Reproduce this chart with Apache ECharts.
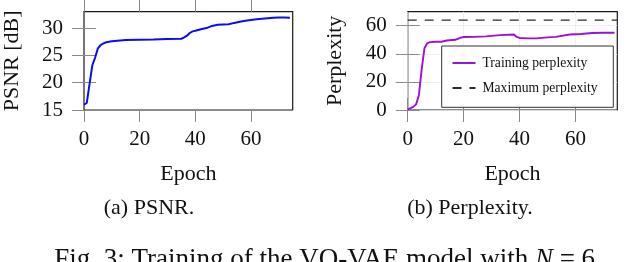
<!DOCTYPE html>
<html><head><meta charset="utf-8">
<script src="https://cdn.jsdelivr.net/npm/echarts@6/dist/echarts.min.js"></script>
<style>html,body{margin:0;padding:0;background:#fff}#c{width:630px;height:262px}</style>
</head><body><div id="c"></div>
<script>
// ---- data ----
const psnrEpochs = [0,1,2,3,4,5,6,7,8,10,12,15,20,25,30,35,36,37,38,39,40,42,44,46,48,50,52,54,56,58,60,62,64,66,68,70,72,74];
const psnrValues = [16.0,16.3,19.8,23.2,24.6,26.3,26.9,27.2,27.4,27.6,27.7,27.8,27.85,27.9,28.0,28.05,28.3,28.6,29.1,29.4,29.5,29.8,30.0,30.4,30.6,30.65,30.7,30.95,31.15,31.35,31.5,31.6,31.7,31.8,31.9,31.95,31.95,31.9];
const perpEpochs = [0,1,2,3,4,5,6,7,8,10,12,14,17,19,20,24,28,33,38,39,40,43,46,50,53,58,62,66,70,74];
const perpValues = [0.5,1.3,2.2,4,10.5,29,44,47.5,48.3,48.6,48.6,49.5,50,51.5,52,52.1,52.4,53.3,53.8,52,51.3,51,51,51.7,52.1,53.8,54.1,54.8,55,55];
const maxPerplexity = 64;
const epochRange = [0, 75];
const epochTicks = [0,20,40,60];
const psnrTicks = [15,20,25,30];
const perpTicks = [0,20,40,60];
const seriesNames = ['Training perplexity','Maximum perplexity'];
const axisNames = {x:'Epoch', psnr:'PSNR [dB]', perp:'Perplexity'};
const captions = ['(a) PSNR.', '(b) Perplexity.'];
const figCaption = ['Fig. 3: Training of the VQ-VAE model with ', 'N', ' = 6.'];

// ---- chart ----
const FONT = "'Liberation Serif','Times New Roman',serif";
const chart = echarts.init(document.getElementById('c'), null, {renderer:'canvas'});
const tick = vals => ({show:true, inside:false, length:12, customValues: vals, lineStyle:{color:'#8a8a8a', width:1}});
const lbl = (vals, show, margin) => ({show, customValues: vals, margin, fontFamily:FONT, fontSize:21, color:'#111'});
const noSplit = {show:false};
const split = {show:true, lineStyle:{color:'#ececec', width:0.8}};

function xAxes(grid, showSplit){
  return [
    {type:'value', gridIndex:grid, position:'bottom', min:epochRange[0], max:epochRange[1], interval:20,
     axisLine:{show:false}, axisTick:tick(epochTicks), axisLabel:lbl(epochTicks,true,19),
     splitLine: showSplit ? split : noSplit,
     name:axisNames.x, nameLocation:'middle', nameGap:53,
     nameTextStyle:{fontFamily:FONT, fontSize:22, color:'#111'}},
    {type:'value', gridIndex:grid, position:'top', min:epochRange[0], max:epochRange[1], interval:20,
     axisLine:{show:false}, axisTick:tick(epochTicks), axisLabel:{show:false}, splitLine:noSplit}
  ];
}
function yAxes(grid, min, max, interval, ticks, name, showSplit){
  return [
    {type:'value', gridIndex:grid, position:'left', min, max, interval,
     axisLine:{show:false}, axisTick:tick(ticks), axisLabel:lbl(ticks,true,21),
     splitLine: showSplit ? split : noSplit,
     name, nameLocation:'middle', nameGap:61,
     nameTextStyle:{fontFamily:FONT, fontSize:22, color:'#111'}},
    {type:'value', gridIndex:grid, position:'right', min, max, interval,
     axisLine:{show:false}, axisTick:tick(ticks), axisLabel:{show:false}, splitLine:noSplit}
  ];
}

const option = {
  animation:false,
  backgroundColor:'#fff',
  grid:[
    {left:82.3, top:11.7, width:210.4, height:98.3, show:true, borderColor:'#1a1a1a', borderWidth:1.2, backgroundColor:'transparent'},
    {left:407.7, top:11.7, width:209.6, height:98.3, show:true, borderColor:'#1a1a1a', borderWidth:1.2, backgroundColor:'transparent'}
  ],
  xAxis:[...xAxes(0,false), ...xAxes(1,true)],
  yAxis:[...yAxes(0,15,33,5,psnrTicks,axisNames.psnr,false), ...yAxes(1,0,70,20,perpTicks,axisNames.perp,true)],
  legend:{
    orient:'vertical', left:451.5, top:56, padding:0, itemGap:11, itemWidth:23, itemHeight:14,
    z:20, itemStyle:{opacity:0},
    textStyle:{fontFamily:FONT, fontSize:13.6, color:'#111', padding:[0,0,0,2]},
    data:seriesNames
  },
  series:[
    {name:'PSNR', type:'line', xAxisIndex:0, yAxisIndex:0, symbol:'none', smooth:false,
     lineStyle:{color:'#0a0aff', width:2}, itemStyle:{color:'#0a0aff'},
     data: psnrEpochs.map((e,i)=>[e, psnrValues[i]])},
    {name:seriesNames[0], type:'line', xAxisIndex:2, yAxisIndex:2, symbol:'none',
     lineStyle:{color:'#9a10dc', width:1.9}, itemStyle:{color:'#9a10dc'},
     data: perpEpochs.map((e,i)=>[e, perpValues[i]])},
    {name:seriesNames[1], type:'line', xAxisIndex:2, yAxisIndex:2, symbol:'none',
     lineStyle:{color:'#2a2a2a', width:1.4, type:[9,8]}, itemStyle:{color:'#2a2a2a'},
     data: epochRange.map(e=>[e, maxPerplexity])}
  ],
  graphic:[
    {type:'rect', z:10, shape:{x:441.7, y:46, width:171.6, height:61.3},
     style:{fill:'#fff', stroke:'#333', lineWidth:1}},
    {type:'text', x:149, y:208, style:{text:captions[0], font:`22px ${FONT}`, fill:'#111', align:'center', verticalAlign:'middle'}},
    {type:'text', x:470, y:208, style:{text:captions[1], font:`22px ${FONT}`, fill:'#111', align:'center', verticalAlign:'middle'}},
    {type:'text', x:328, y:246, style:{
      text:`{n|${figCaption[0]}}{i|${figCaption[1]}}{n|${figCaption[2]}}`,
      align:'center', verticalAlign:'top',
      rich:{n:{fontFamily:FONT, fontSize:27, fill:'#111', color:'#111'},
            i:{fontFamily:FONT, fontSize:27, fontStyle:'italic', fill:'#111', color:'#111'}}}}
  ]
};
chart.setOption(option);
</script>
</body></html>
